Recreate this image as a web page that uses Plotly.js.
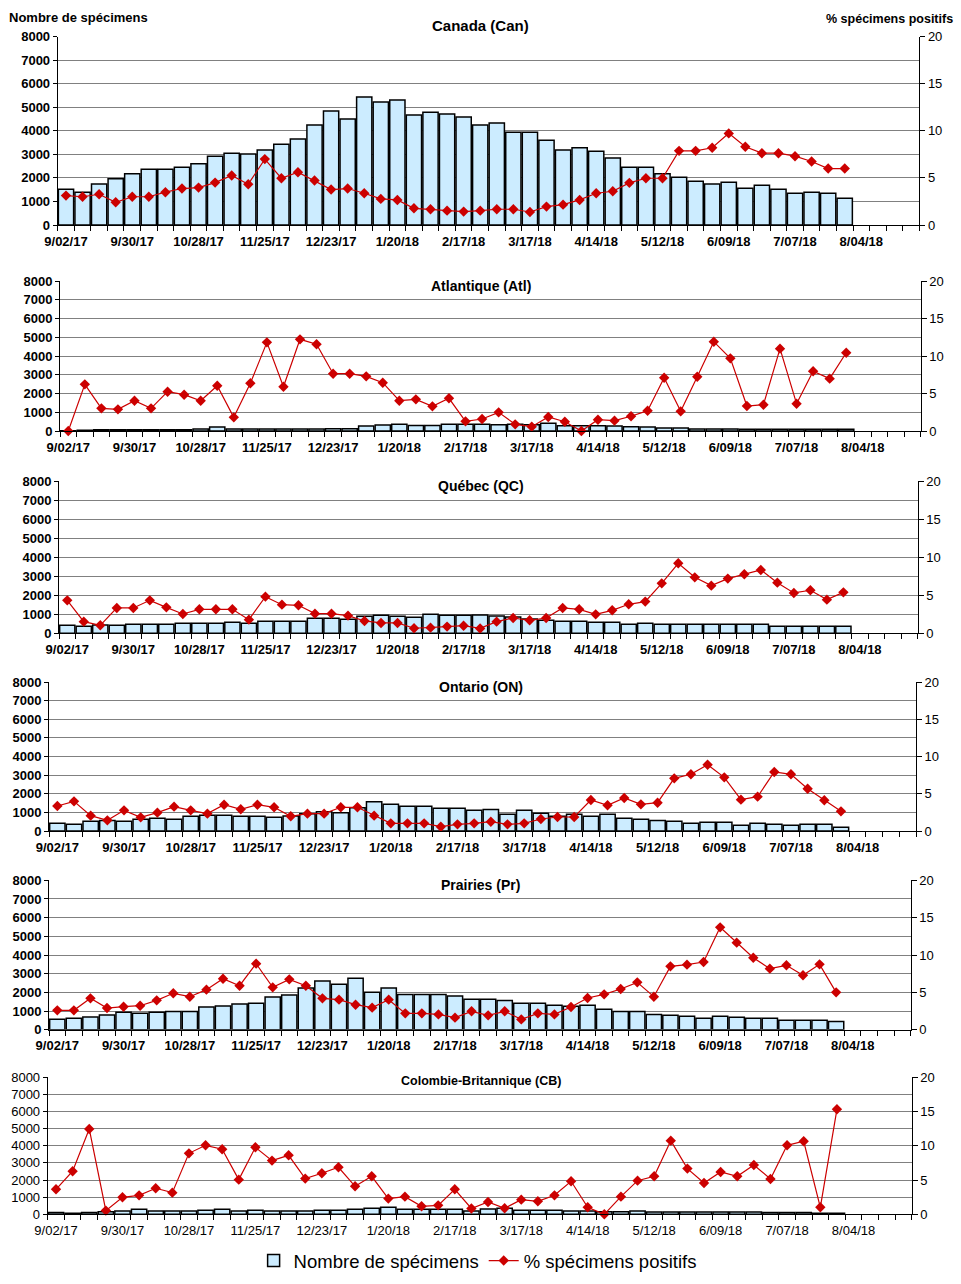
<!DOCTYPE html>
<html>
<head>
<meta charset="utf-8">
<script src="https://cdn.plot.ly/plotly-3.0.1.min.js"></script>
<style>
html,body{margin:0;padding:0;background:#fff;}
#chart{width:961px;height:1284px;}
</style>
</head>
<body>
<div id="chart"></div>
<script>
// ---------- DATA ----------
const weeks = ['9/02/17','9/09/17','9/16/17','9/23/17','9/30/17','10/07/17','10/14/17','10/21/17','10/28/17','11/04/17','11/11/17','11/18/17','11/25/17','12/02/17','12/09/17','12/16/17','12/23/17','12/30/17','1/06/18','1/13/18','1/20/18','1/27/18','2/03/18','2/10/18','2/17/18','2/24/18','3/03/18','3/10/18','3/17/18','3/24/18','3/31/18','4/07/18','4/14/18','4/21/18','4/28/18','5/05/18','5/12/18','5/19/18','5/26/18','6/02/18','6/09/18','6/16/18','6/23/18','6/30/18','7/07/18','7/14/18','7/21/18','7/28/18','8/04/18','8/11/18','8/18/18','8/25/18'];
const tickLabels = ['9/02/17','9/30/17','10/28/17','11/25/17','12/23/17','1/20/18','2/17/18','3/17/18','4/14/18','5/12/18','6/09/18','7/07/18','8/04/18'];

const regionNames = ['Canada (Can)','Atlantique (Atl)','Québec (QC)','Ontario (ON)','Prairies (Pr)','Colombie-Britannique (CB)'];
const seriesNames = ['Nombre de spécimens','% spécimens positifs'];

const canadaCount = [1520,1390,1745,1960,2170,2370,2370,2450,2600,2920,3050,3010,3180,3430,3650,4240,4840,4500,5430,5220,5300,4670,4790,4710,4580,4240,4330,3940,3940,3600,3180,3280,3130,2840,2450,2450,2170,2030,1860,1745,1815,1560,1690,1520,1350,1390,1350,1135];
const canadaPct = [3.12,3.0,3.26,2.41,3.0,3.0,3.48,3.87,3.97,4.5,5.25,4.33,6.99,4.96,5.6,4.72,3.76,3.87,3.37,2.77,2.66,1.77,1.67,1.52,1.42,1.52,1.67,1.67,1.38,1.95,2.16,2.66,3.37,3.58,4.47,4.96,4.96,7.87,7.87,8.19,9.72,8.3,7.62,7.62,7.3,6.74,5.99,5.99];

const atlCount = [20,35,70,70,70,70,70,70,107,213,107,107,107,107,107,107,125,125,267,320,355,300,300,355,355,355,340,355,340,410,285,285,285,267,230,213,160,160,107,107,107,90,90,90,90,90,90,90];
const atlPct = [0,6.22,3.02,2.89,4.04,3.02,5.24,4.84,4.04,6.04,1.82,6.36,11.82,5.91,12.22,11.56,7.64,7.64,7.29,6.44,4.04,4.22,3.29,4.36,1.29,1.6,2.49,0.89,0.58,1.87,1.24,0,1.51,1.38,1.96,2.71,7.11,2.62,7.24,11.91,9.69,3.33,3.51,10.98,3.64,7.96,6.98,10.44];

const qcCount = [420,370,440,420,470,470,470,525,525,525,580,525,630,630,630,790,790,735,895,945,895,840,1000,945,945,960,910,860,750,680,630,630,580,580,470,525,470,470,470,470,470,470,470,370,370,370,370,370];
const qcPct = [4.33,1.53,1.05,3.33,3.33,4.33,3.41,2.54,3.15,3.15,3.15,1.79,4.81,3.76,3.68,2.58,2.58,2.32,1.62,1.36,1.36,0.66,0.74,0.88,1.0,0.64,1.53,2.01,1.71,2.01,3.33,3.15,2.49,3.02,3.81,4.16,6.56,9.19,7.35,6.26,7.18,7.75,8.32,6.65,5.3,5.65,4.42,5.38];

const onCount = [410,360,520,570,520,625,680,625,790,840,840,790,790,735,805,930,1040,985,1250,1575,1430,1325,1325,1215,1215,1110,1160,895,1110,950,790,895,790,895,680,625,570,520,410,465,465,305,410,360,305,360,360,200];
const onPct = [3.36,3.98,2.06,1.43,2.77,1.83,2.46,3.27,2.77,2.33,3.53,2.91,3.53,3.18,1.97,2.33,2.33,3.18,3.18,2.06,1.03,1.03,1.03,0.58,0.89,1.03,1.25,0.89,1.03,1.61,1.88,1.88,4.16,3.45,4.43,3.58,3.8,7.07,7.61,8.9,7.2,4.21,4.61,7.92,7.61,5.68,4.12,2.64];

const prCount = [555,607,680,785,930,875,930,980,980,1215,1270,1375,1410,1750,1860,2230,2610,2430,2750,2000,2230,1890,1890,1890,1800,1625,1625,1570,1410,1410,1305,1250,1305,1090,980,980,820,770,715,607,715,660,607,607,500,500,500,445];
const prPct = [2.59,2.59,4.2,2.9,3.08,3.21,3.93,4.87,4.42,5.36,6.83,5.89,8.84,5.67,6.74,5.89,4.2,4.02,3.35,2.95,4.02,2.19,2.19,2.05,1.61,2.46,1.92,2.46,1.38,2.19,2.05,3.04,4.24,4.73,5.45,6.34,4.42,8.48,8.71,9.06,13.7,11.65,9.64,8.17,8.62,7.28,8.75,5.0];

const cbCount = [100,60,100,155,195,290,195,195,195,235,290,195,235,195,195,195,235,235,290,350,410,290,290,290,290,195,310,350,235,235,235,195,195,155,155,195,135,135,135,135,135,135,135,100,100,100,60,60];
const cbPct = [3.65,6.28,12.46,0.54,2.48,2.77,3.8,3.16,8.9,10.07,9.49,5.06,9.78,7.84,8.61,5.21,5.99,6.86,4.09,5.55,2.29,2.58,1.17,1.31,3.65,0.85,1.8,0.88,2.14,1.9,2.77,4.82,1.02,0,2.58,4.91,5.55,10.75,6.67,4.57,6.18,5.55,7.2,5.16,10.07,10.66,1.02,15.33];

const counts = [canadaCount, atlCount, qcCount, onCount, prCount, cbCount];
const pcts = [canadaPct, atlPct, qcPct, onPct, prPct, cbPct];

// ---------- LAYOUT (pixel geometry) ----------
const W = 961, H = 1284;
const panels = [
  {x0:57.7, x1:919.3, top:36.5, bot:225,   titleY:26,   titleSize:15, bold:true},
  {x0:60,   x1:920.7, top:281,  bot:431,   titleY:286,  titleSize:14, bold:true},
  {x0:59,   x1:917.7, top:481,  bot:633.3, titleY:486,  titleSize:14, bold:true},
  {x0:49,   x1:916,   top:682,  bot:831,   titleY:687,  titleSize:14, bold:true},
  {x0:49,   x1:910.7, top:880.3,bot:1029.7,titleY:885,  titleSize:14, bold:true},
  {x0:47.7, x1:911.7, top:1077.3,bot:1214.3,titleY:1081,titleSize:12.5, bold:false}
];
const FONT = 'Liberation Sans, Arial, sans-serif';
const px = v => v / W;
const py = v => 1 - v / H;

const xIdx = weeks.map((w, i) => i);
const tickIdx = tickLabels.map(t => weeks.indexOf(t));

const data = [];
const layout = {
  width: W, height: H,
  margin: {l:0, r:0, t:0, b:0},
  paper_bgcolor: '#fff', plot_bgcolor: 'rgba(0,0,0,0)',
  font: {family: FONT, color: '#000'},
  showlegend: true,
  legend: {orientation:'h', x:0.497, xanchor:'center', y:py(1261), yanchor:'middle',
           font:{size:18.5, family:FONT, color:'#000'}, itemwidth:30, tracegroupgap:0},
  annotations: [],
  bargap: 0.08
};

panels.forEach((p, k) => {
  const xn = k === 0 ? 'x' : 'x' + (k + 1);
  const yL = 2 * k + 1, yR = 2 * k + 2;
  const yLn = yL === 1 ? 'y' : 'y' + yL;
  const yRn = 'y' + yR;
  const w = p.bold ? 700 : 400;
  const dom = [py(p.bot), py(p.top)];

  layout['xaxis' + (k === 0 ? '' : k + 1)] = {
    domain: [px(p.x0), px(p.x1)], anchor: yLn,
    range: [-0.5, weeks.length - 0.5], fixedrange: true,
    tickmode: 'array', tickvals: tickIdx, ticktext: tickLabels,
    ticks: 'outside', ticklen: 4, tickcolor: 'rgba(0,0,0,0)',
    tickfont: {size: 13, weight: w, family: FONT},
    showgrid: false, zeroline: false,
    showline: true, linecolor: '#000', linewidth: 1,
    minor: {tickmode: 'linear', tick0: -0.5, dtick: 1, ticks: 'outside', ticklen: 5, tickcolor: '#000', tickwidth: 1, showgrid: false}
  };
  layout['yaxis' + (yL === 1 ? '' : yL)] = {
    domain: dom, anchor: xn, range: [0, 8000], dtick: 1000, tick0: 0,
    ticks: 'outside', ticklen: 4, tickcolor: '#000',
    tickfont: {size: 13, weight: w, family: FONT},
    showgrid: true, gridcolor: '#808080', gridwidth: 1,
    zeroline: false, showline: true, linecolor: '#000', linewidth: 1, fixedrange: true
  };
  layout['yaxis' + yR] = {
    domain: dom, anchor: xn, overlaying: yLn, side: 'right',
    range: [0, 20], dtick: 5, tick0: 0,
    ticks: 'outside', ticklen: 5, tickcolor: '#000',
    tickfont: {size: 13, weight: 400, family: FONT},
    showgrid: false, zeroline: false, showline: true, linecolor: '#000', linewidth: 1, fixedrange: true
  };

  data.push({
    type: 'bar', x: xIdx.slice(0, counts[k].length), y: counts[k],
    xaxis: xn, yaxis: yLn, name: seriesNames[0],
    showlegend: k === 0, legendgroup: 'a',
    marker: {color: '#CCECFF', line: {color: '#000', width: 1.5}},
    hoverinfo: 'skip'
  });
  data.push({
    type: 'scatter', mode: 'lines+markers', x: xIdx.slice(0, pcts[k].length), y: pcts[k],
    xaxis: xn, yaxis: yRn, name: seriesNames[1],
    showlegend: k === 0, legendgroup: 'b',
    line: {color: '#CC0000', width: 1.2},
    marker: {symbol: 'diamond', size: 8, color: '#CC0000'},
    cliponaxis: false, hoverinfo: 'skip'
  });

  layout.annotations.push({
    text: regionNames[k], xref: 'paper', yref: 'paper',
    x: px(480.5), y: py(p.titleY), xanchor: 'center', yanchor: 'middle',
    showarrow: false, font: {size: p.titleSize, weight: 700, family: FONT, color: '#000'}
  });
});

layout.annotations.push({
  text: 'Nombre de spécimens', xref: 'paper', yref: 'paper',
  x: px(7), y: py(18), xanchor: 'left', yanchor: 'middle', showarrow: false,
  font: {size: 13, weight: 700, family: FONT, color: '#000'}
});
layout.annotations.push({
  text: '% spécimens positifs', xref: 'paper', yref: 'paper',
  x: px(955), y: py(19), xanchor: 'right', yanchor: 'middle', showarrow: false,
  font: {size: 12.5, weight: 700, family: FONT, color: '#000'}
});

Plotly.newPlot('chart', data, layout, {staticPlot: true, displayModeBar: false});
</script>
</body>
</html>
